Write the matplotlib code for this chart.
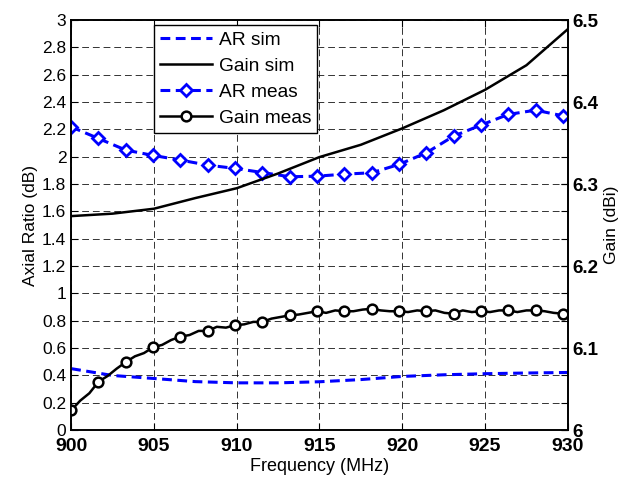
import matplotlib
matplotlib.use("Agg")
import matplotlib.pyplot as plt

plt.rcParams["font.family"] = ["Liberation Sans", "DejaVu Sans"]

# simulated curves
freq_sim = [900, 902.5, 905, 907.5, 910, 912.5, 915, 917.5, 920, 922.5, 925, 927.5, 930]
ar_sim = [0.45, 0.40, 0.378, 0.355, 0.346, 0.346, 0.354, 0.37, 0.393, 0.405, 0.413, 0.418, 0.422]
gain_sim = [6.261, 6.264, 6.270, 6.283, 6.295, 6.313, 6.333, 6.348, 6.368, 6.390, 6.415, 6.445, 6.489]

# measured axial ratio
freq_ar_meas = [900.0, 901.65, 903.3, 904.95, 906.6, 908.25, 909.9, 911.55, 913.2, 914.85,
                916.5, 918.15, 919.8, 921.45, 923.1, 924.75, 926.4, 928.05, 929.7]
ar_meas = [2.219, 2.134, 2.049, 2.010, 1.976, 1.939, 1.915, 1.885, 1.854, 1.858,
           1.873, 1.883, 1.944, 2.029, 2.151, 2.232, 2.310, 2.341, 2.300]

# measured gain (dense, markers every 3rd point)
freq_gain_meas = [900.00, 900.55, 901.10, 901.65, 902.20, 902.75, 903.30, 903.85, 904.40, 904.95,
                  905.50, 906.05, 906.60, 907.15, 907.70, 908.25, 908.80, 909.35, 909.90, 910.45,
                  911.00, 911.55, 912.10, 912.65, 913.20, 913.75, 914.30, 914.85, 915.40, 915.95,
                  916.50, 917.05, 917.60, 918.15, 918.70, 919.25, 919.80, 920.35, 920.90, 921.45,
                  922.00, 922.55, 923.10, 923.65, 924.20, 924.75, 925.30, 925.85, 926.40, 926.95,
                  927.50, 928.05, 928.60, 929.15, 929.70, 930.00]
gain_meas = [6.024, 6.036, 6.045, 6.059, 6.066, 6.075, 6.083, 6.090, 6.094, 6.101,
             6.104, 6.110, 6.114, 6.116, 6.121, 6.121, 6.126, 6.125, 6.128, 6.129,
             6.132, 6.132, 6.136, 6.138, 6.140, 6.141, 6.143, 6.145, 6.143, 6.146,
             6.145, 6.145, 6.147, 6.148, 6.146, 6.145, 6.145, 6.144, 6.146, 6.145,
             6.146, 6.143, 6.142, 6.146, 6.144, 6.145, 6.144, 6.146, 6.146, 6.144,
             6.146, 6.146, 6.145, 6.143, 6.142, 6.141]

x_ticks = [900, 905, 910, 915, 920, 925, 930]
ar_ticks = [0, 0.2, 0.4, 0.6, 0.8, 1, 1.2, 1.4, 1.6, 1.8, 2, 2.2, 2.4, 2.6, 2.8, 3]
gain_ticks = [6, 6.1, 6.2, 6.3, 6.4, 6.5]

fig = plt.figure(figsize=(6.24, 4.79), dpi=100)
ax1 = fig.add_axes([0.114, 0.102, 0.796, 0.856])
ax2 = ax1.twinx()

blue = "#0000ff"
l1, = ax1.plot(freq_sim, ar_sim, color=blue, lw=2.2, ls=(0, (3.2, 1.8)), label="AR sim")
l3, = ax1.plot(freq_ar_meas, ar_meas, color=blue, lw=2.2, ls=(0, (3.2, 1.8)),
               marker="D", ms=6, mfc="white", mec=blue, mew=2, label="AR meas")
l2, = ax2.plot(freq_sim, gain_sim, color="k", lw=1.8, label="Gain sim")
l4, = ax2.plot(freq_gain_meas, gain_meas, color="k", lw=1.8, marker="o", ms=7,
               mfc="white", mec="k", mew=1.8, markevery=3, label="Gain meas")

ax1.set_xlim(900, 930)
ax1.set_ylim(0, 3)
ax2.set_ylim(6, 6.5)

ax1.set_xticks(x_ticks)
ax1.set_xticklabels([str(t) for t in x_ticks], fontsize=14, fontweight="bold")
ax1.set_yticks(ar_ticks)
ax1.set_yticklabels([("%g" % t) for t in ar_ticks], fontsize=12.5)
ax2.set_yticks(gain_ticks)
ax2.set_yticklabels([("%g" % t) for t in gain_ticks], fontsize=13.5, fontweight="bold")

ax1.tick_params(axis="x", pad=6)
ax1.tick_params(direction="in", top=True, right=True, length=5, width=0.8)
ax2.tick_params(direction="in", length=5, width=0.8, pad=3)

ax1.grid(True, color="k", lw=0.7, ls=(0, (7, 4)), alpha=0.8)

ax1.set_xlabel("Frequency (MHz)", fontsize=13, labelpad=2)
ax1.set_ylabel("Axial Ratio (dB)", fontsize=12.5, labelpad=3)
ax2.set_ylabel("Gain (dBi)", fontsize=12.5, labelpad=4)

for ax in (ax1, ax2):
    for sp in ax.spines.values():
        sp.set_linewidth(1.2)

leg = ax2.legend(handles=[l1, l2, l3, l4], loc="upper left", bbox_to_anchor=(0.167, 0.988),
                 fontsize=13.8, handlelength=2.7, handletextpad=0.35, labelspacing=0.45,
                 borderpad=0.32, borderaxespad=0, fancybox=False, framealpha=1, edgecolor="k")
leg.get_frame().set_linewidth(1.0)

fig.savefig("out.png", dpi=100)
